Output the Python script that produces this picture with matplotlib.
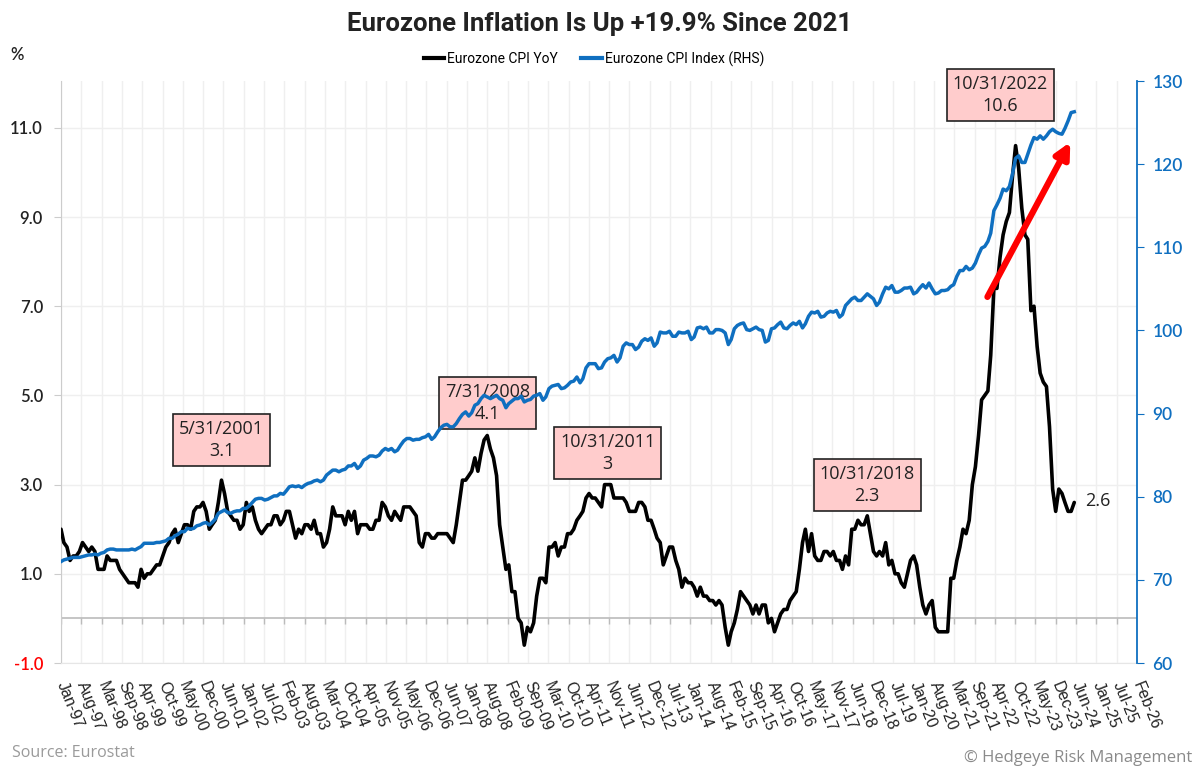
import matplotlib
matplotlib.use("Agg")
import matplotlib.pyplot as plt
import matplotlib.dates as mdates
from matplotlib.lines import Line2D
import pandas as pd
import numpy as np

# ---------------- data ----------------
cpi_yoy = [
    2.0, 1.7, 1.6, 1.3, 1.4, 1.4, 1.5, 1.7, 1.6, 1.5, 1.6, 1.5,        # 1997
    1.1, 1.1, 1.1, 1.4, 1.3, 1.3, 1.3, 1.1, 1.0, 0.9, 0.8, 0.8,        # 1998
    0.8, 0.7, 1.1, 0.9, 1.0, 1.0, 1.1, 1.2, 1.2, 1.4, 1.6, 1.7,        # 1999
    1.9, 2.0, 1.7, 1.9, 2.1, 2.1, 2.0, 2.4, 2.5, 2.5, 2.6, 2.4,        # 2000
    2.0, 2.1, 2.2, 2.6, 3.1, 2.8, 2.4, 2.3, 2.2, 2.2, 2.0, 2.1,        # 2001
    2.6, 2.4, 2.5, 2.2, 2.0, 1.9, 2.0, 2.1, 2.1, 2.3, 2.3, 2.1,        # 2002
    2.2, 2.4, 2.4, 2.1, 1.8, 2.0, 1.9, 2.1, 2.1, 2.0, 2.2, 1.9,        # 2003
    1.9, 1.6, 1.7, 2.0, 2.5, 2.3, 2.3, 2.3, 2.1, 2.4, 2.2, 2.4,        # 2004
    1.9, 2.1, 2.1, 2.1, 2.0, 2.0, 2.2, 2.2, 2.6, 2.5, 2.3, 2.2,        # 2005
    2.4, 2.3, 2.2, 2.5, 2.5, 2.5, 2.4, 2.3, 1.7, 1.6, 1.9, 1.9,        # 2006
    1.8, 1.8, 1.9, 1.9, 1.9, 1.9, 1.8, 1.7, 2.1, 2.6, 3.1, 3.1,        # 2007
    3.2, 3.3, 3.6, 3.3, 3.7, 4.0, 4.1, 3.8, 3.6, 3.2, 2.1, 1.6,        # 2008
    1.1, 1.2, 0.6, 0.6, 0.0, -0.1, -0.6, -0.2, -0.3, -0.1, 0.5, 0.9,   # 2009
    0.9, 0.8, 1.6, 1.6, 1.7, 1.4, 1.6, 1.6, 1.9, 1.9, 2.0, 2.2,        # 2010
    2.3, 2.4, 2.7, 2.8, 2.7, 2.7, 2.6, 2.5, 3.0, 3.0, 3.0, 2.7,        # 2011
    2.7, 2.7, 2.7, 2.6, 2.4, 2.4, 2.4, 2.6, 2.6, 2.5, 2.2, 2.2,        # 2012
    2.0, 1.8, 1.7, 1.2, 1.4, 1.6, 1.6, 1.3, 1.1, 0.7, 0.9, 0.8,        # 2013
    0.8, 0.7, 0.5, 0.7, 0.5, 0.5, 0.4, 0.4, 0.3, 0.4, 0.3, -0.2,       # 2014
    -0.6, -0.3, -0.1, 0.2, 0.6, 0.5, 0.4, 0.3, 0.1, 0.3, 0.1, 0.3,     # 2015
    0.3, -0.1, 0.0, -0.3, -0.1, 0.1, 0.2, 0.2, 0.4, 0.5, 0.6, 1.1,     # 2016
    1.7, 2.0, 1.5, 1.9, 1.4, 1.3, 1.3, 1.5, 1.5, 1.4, 1.5, 1.3,        # 2017
    1.3, 1.1, 1.4, 1.2, 2.0, 2.0, 2.2, 2.1, 2.1, 2.3, 1.9, 1.5,        # 2018
    1.4, 1.5, 1.4, 1.7, 1.2, 1.3, 1.0, 1.0, 0.8, 0.7, 1.0, 1.3,        # 2019
    1.4, 1.2, 0.7, 0.3, 0.1, 0.3, 0.4, -0.2, -0.3, -0.3, -0.3, -0.3,   # 2020
    0.9, 0.9, 1.3, 1.6, 2.0, 1.9, 2.2, 3.0, 3.4, 4.1, 4.9, 5.0,        # 2021
    5.1, 5.9, 7.4, 7.4, 8.1, 8.6, 8.9, 9.1, 9.9, 10.6, 10.1, 9.2,      # 2022
    8.6, 8.5, 6.9, 7.0, 6.1, 5.5, 5.3, 5.2, 4.3, 2.9, 2.4, 2.9,        # 2023
    2.8, 2.6, 2.4, 2.4, 2.6,                                           # 2024
]

cpi_index = [
    72.2, 72.4, 72.5, 72.6, 72.7, 72.7, 72.7, 72.8, 72.9, 73.0, 73.0, 73.1,
    73.0, 73.2, 73.3, 73.6, 73.7, 73.7, 73.6, 73.6, 73.6, 73.6, 73.6, 73.7,
    73.6, 73.8, 74.0, 74.4, 74.4, 74.4, 74.4, 74.5, 74.5, 74.6, 74.7, 75.0,
    75.0, 75.3, 75.5, 75.8, 75.8, 76.2, 76.1, 76.2, 76.5, 76.6, 76.8, 76.9,
    76.6, 76.9, 77.3, 78.0, 78.2, 78.4, 78.1, 78.0, 78.2, 78.3, 78.3, 78.6,
    78.6, 78.9, 79.3, 79.7, 79.8, 79.8, 79.6, 79.7, 79.9, 80.1, 80.1, 80.4,
    80.3, 80.7, 81.2, 81.3, 81.2, 81.3, 81.1, 81.4, 81.6, 81.7, 81.9, 82.0,
    81.8, 82.0, 82.6, 82.9, 83.2, 83.2, 83.0, 83.2, 83.3, 83.7, 83.7, 84.0,
    83.4, 83.7, 84.4, 84.6, 84.9, 84.9, 84.8, 85.0, 85.5, 85.8, 85.6, 85.8,
    85.4, 85.6, 86.2, 86.7, 87.0, 87.0, 86.8, 86.9, 86.9, 87.1, 87.2, 87.5,
    86.9, 87.2, 87.8, 88.3, 88.6, 88.7, 88.4, 88.4, 88.8, 89.4, 89.9, 90.2,
    89.7, 90.1, 91.0, 91.2, 91.8, 92.2, 92.0, 91.8, 92.0, 92.2, 91.8, 91.6,
    90.7, 91.2, 91.5, 91.8, 91.8, 92.1, 91.4, 91.6, 91.7, 92.1, 92.2, 92.4,
    91.6, 92.0, 93.0, 93.3, 93.4, 93.5, 93.0, 93.1, 93.4, 93.8, 93.9, 94.4,
    93.7, 94.2, 95.5, 96.0, 96.0, 96.0, 95.4, 95.5, 96.2, 96.6, 96.7, 97.0,
    96.2, 96.7, 98.1, 98.5, 98.3, 98.3, 97.7, 98.0, 98.7, 99.0, 98.8, 99.1,
    98.1, 98.5, 99.8, 99.7, 99.7, 99.9, 99.3, 99.3, 99.8, 99.7, 99.7, 99.9,
    98.9, 99.2, 100.3, 100.4, 100.2, 100.4, 99.7, 99.7, 100.1, 100.1, 100.0, 99.7,
    98.3, 98.9, 100.2, 100.6, 100.8, 100.9, 100.1, 100.0, 100.2, 100.4, 100.1, 100.0,
    98.6, 98.8, 100.2, 100.3, 100.7, 101.0, 100.3, 100.2, 100.6, 100.9, 100.7, 101.1,
    100.3, 100.8, 101.7, 102.2, 102.1, 102.3, 101.6, 101.7, 102.1, 102.3, 102.2, 102.4,
    101.6, 101.9, 103.0, 103.4, 103.8, 104.0, 103.6, 103.6, 104.0, 104.4, 104.1, 103.8,
    103.0, 103.4, 104.4, 105.2, 105.0, 105.4, 104.6, 104.6, 104.8, 105.1, 105.1, 105.2,
    104.4, 104.6, 105.1, 105.5, 105.1, 105.7, 105.0, 104.4, 104.5, 104.8, 104.8, 104.9,
    105.3, 105.5, 106.5, 107.2, 107.2, 107.7, 107.3, 107.5, 108.1, 109.1, 109.9, 110.1,
    110.7, 111.7, 114.4, 115.1, 115.9, 117.0, 116.8, 117.3, 118.8, 120.7, 121.0, 120.2,
    120.2, 121.2, 122.3, 123.2, 123.0, 123.4, 123.0, 123.4, 123.9, 124.2, 123.9, 123.7,
    123.6, 124.3, 125.2, 126.2, 126.3,
]

dates = pd.date_range("1997-01-31", periods=len(cpi_yoy), freq="ME")

# highlighted points
highlight_dates = ["2001-05-31", "2008-07-31", "2011-10-31", "2018-10-31", "2022-10-31"]
# label placement (styling): height above point, horizontal shift in points
highlight_offsets = [0.45, 0.28, 0.26, 0.24, 0.69]
highlight_shift = [0, 0, 0, 0, -11]

left_ticks = [-1.0, 1.0, 3.0, 5.0, 7.0, 9.0, 11.0]
right_ticks = [60, 70, 80, 90, 100, 110, 120, 130]

# ---------------- style ----------------
BLUE = "#0F6FC0"
GRID = "#EFEFEF"
TXT = "#222222"

fig = plt.figure(figsize=(12, 7.72), dpi=100)
ax = fig.add_axes([61 / 1200, 1 - 663 / 772, (1137 - 61) / 1200, (663 - 81) / 772])
ax2 = ax.twinx()

# x ticks every 200 days
start = pd.Timestamp("1997-01-31")
xticks = pd.date_range(start, periods=54, freq="200D")
ax.set_xlim(xticks[0], xticks[-1])
ax.set_xticks(xticks)
ax.set_xticklabels([d.strftime("%b-%y") for d in xticks], rotation=-68,
                   ha="left", va="center", rotation_mode="anchor",
                   fontsize=11.5, family="Liberation Sans", color=TXT)
ax.tick_params(axis="x", length=0, pad=14)

ax.set_ylim(-1, 12.05)
ax.set_yticks(left_ticks)
ax.set_yticklabels([f"{v:.1f}" for v in left_ticks], fontsize=12, family="Lato",
                   color=TXT, fontweight="semibold")
ax.get_yticklabels()[0].set_color("red")
ax.tick_params(axis="y", length=5, color="#CCCCCC", pad=8)

ax.grid(True, color=GRID, lw=1.0)
ax.set_axisbelow(True)
for s in ["top", "right"]:
    ax.spines[s].set_visible(False)
ax.spines["left"].set_color("#CCCCCC")
ax.spines["bottom"].set_color("#E6E6E6")

# zero line with small ticks
ax.axhline(0, color="#BBBBBB", lw=1.2, zorder=1)
ax.vlines(xticks, -0.13, 0, color="#BBBBBB", lw=1.0, zorder=1)

ax.plot(dates, cpi_yoy, color="black", lw=2.6, zorder=3, solid_capstyle="round")

# right axis
ax2.plot(dates, cpi_index, color=BLUE, lw=2.5, zorder=4)
ax2.set_ylim(60, 130)
ax2.set_yticks(right_ticks)
ax2.set_yticklabels([str(v) for v in right_ticks], fontsize=12.5, family="Lato",
                    color=BLUE, fontweight="semibold")
ax2.tick_params(axis="y", length=5, color=BLUE, pad=6)
for s in ["top", "left", "bottom"]:
    ax2.spines[s].set_visible(False)
ax2.spines["right"].set_color(BLUE)
ax2.spines["right"].set_linewidth(1.3)

# annotation boxes
yoy_series = pd.Series(cpi_yoy, index=dates)
for ds, off, sh in zip(highlight_dates, highlight_offsets, highlight_shift):
    d = pd.Timestamp(ds)
    v = yoy_series[d]
    label = f"{d.month}/{d.day}/{d.year}\n{v:g}"
    ax.annotate(label, xy=(d, v + off), xytext=(sh, 0), textcoords="offset points",
                ha="center", va="bottom", fontsize=13, family="Open Sans",
                color=TXT, linespacing=1.3, zorder=2,
                bbox=dict(boxstyle="square,pad=0.33", fc="#FFCCCC", ec="#222222", lw=1.2))

# last value label
ax.annotate(f"{cpi_yoy[-1]:g}", xy=(dates[-1], cpi_yoy[-1]), xytext=(8, 1),
            textcoords="offset points", va="center", ha="left", fontsize=13,
            family="Open Sans", color=TXT)

# red arrow
ax.annotate("", xy=(0.938, 0.895), xytext=(0.861, 0.629), xycoords="axes fraction",
            textcoords="axes fraction",
            arrowprops=dict(arrowstyle="-|>,head_length=0.9,head_width=0.45",
                            color="red", lw=4.5, shrinkA=0, shrinkB=0), zorder=6)

# title, legend, labels
fig.text(0.5, 1 - 24 / 772, "Eurozone Inflation Is Up +19.9% Since 2021", ha="center",
         va="center", fontsize=18.5, fontweight="bold", family="Roboto", color=TXT)
fig.text(17 / 1200, 1 - 55 / 772, "%", ha="center", va="center", fontsize=12,
         family="Lato", fontweight="semibold", color=TXT)

handles = [Line2D([], [], color="black", lw=3), Line2D([], [], color=BLUE, lw=3)]
fig.legend(handles, ["Eurozone CPI YoY", "Eurozone CPI Index (RHS)"], loc="center",
           bbox_to_anchor=(0.495, 1 - 59 / 772), ncol=2, frameon=False,
           handlelength=1.5, handletextpad=0.2, columnspacing=1.7,
           prop=dict(family="Roboto", size=10))

fig.text(12 / 1200, 1 - 753 / 772, "Source: Eurostat", ha="left", va="center",
         fontsize=11.5, family="Open Sans", color="#9A9A9A")
fig.text(1192 / 1200, 1 - 758 / 772, "\u00a9 Hedgeye Risk Management", ha="right",
         va="center", fontsize=12, family="Open Sans", color="#8A8A8A")

fig.savefig("out.png", dpi=100)
